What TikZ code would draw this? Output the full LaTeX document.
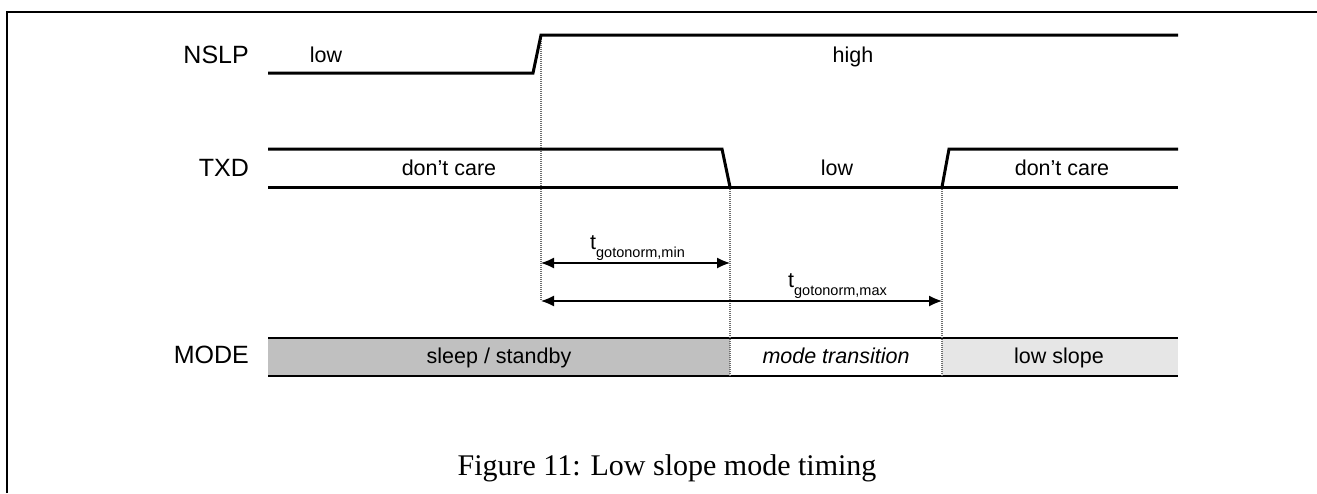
\documentclass[tikz,border=0pt]{standalone}
\usepackage{fontspec}
\setmainfont{Liberation Serif}
\setsansfont{Liberation Sans}
\usetikzlibrary{arrows.meta}
\definecolor{sleepgray}{RGB}{192,192,192}
\definecolor{slopegray}{RGB}{230,230,230}
\definecolor{guidegray}{RGB}{110,110,110}
\begin{document}
\begin{tikzpicture}[x=1pt,y=-1pt,
  sig/.style={line width=3pt, line join=miter},
  guide/.style={guidegray, line width=1.3pt, dash pattern=on 1pt off 1pt},
  dim/.style={line width=1.3pt, {Latex[length=13pt,width=11pt]}-{Latex[length=13pt,width=11pt]}},
  siglabel/.style={font=\sffamily\fontsize{25}{30}\selectfont, anchor=base east, inner sep=0pt},
  val/.style={font=\sffamily\fontsize{21.5}{25}\selectfont, anchor=base, inner sep=0pt},
  tlabel/.style={font=\sffamily\fontsize{21.5}{25}\selectfont, anchor=base west, inner sep=0pt},
  rowline/.style={line width=2pt}
]
\useasboundingbox (0,0) rectangle (1317,493);
% frame
\draw[line width=1.5pt] (7,493) -- (7,12) -- (1317,12);

% coordinates
\coordinate (n0) at (268,73);
\coordinate (n1) at (533,73);
\coordinate (n2) at (541,35);
\coordinate (n3) at (1178,35);
\coordinate (ta) at (268,149);
\coordinate (tb) at (722,149);
\coordinate (tc) at (730,187);
\coordinate (td) at (942,187);
\coordinate (te) at (949,149);
\coordinate (tf) at (1178,149);
\coordinate (tg) at (268,187);
\coordinate (th) at (1178,187);

% mode row
\fill[sleepgray] (268,338) rectangle (730,376);
\fill[slopegray] (942,338) rectangle (1178,376);
\draw[rowline] (268,338) -- (1178,338);
\draw[rowline] (268,376) -- (1178,376);

% guides
\coordinate (g1b) at (541,301);
\coordinate (g2b) at (730,376);
\coordinate (g3b) at (942,376);
\draw[guide] (n2) -- (g1b);
\draw[guide] (tc) -- (g2b);
\draw[guide] (td) -- (g3b);

% signals
\draw[sig] (n0) -- (n1) -- (n2) -- (n3);
\draw[sig] (ta) -- (tb) -- (tc);
\draw[sig] (tg) -- (th);
\draw[sig] (td) -- (te) -- (tf);

% dimension arrows
\coordinate (a1s) at (541,263);
\coordinate (a1e) at (730,263);
\coordinate (a2s) at (541,301);
\coordinate (a2e) at (942,301);
\draw[dim] (a1s) -- (a1e);
\draw[dim] (a2s) -- (a2e);
\node[tlabel] (tmin) at (590,249) {t\raisebox{-8pt}{\fontsize{14.5}{16}\selectfont gotonorm,min}};
\node[tlabel] (tmax) at (788,287) {t\raisebox{-8pt}{\fontsize{14.5}{16}\selectfont gotonorm,max}};

% labels
\node[siglabel] (lnslp) at (249,63) {NSLP};
\node[siglabel] (ltxd) at (249,176) {TXD};
\node[siglabel] (lmode) at (249,363) {MODE};

\node[val] (vlow1) at (326,62) {low};
\node[val] (vhigh) at (853,62) {high};
\node[val] (vdc1) at (449,175) {don’t care};
\node[val] (vlow2) at (837,175) {low};
\node[val] (vdc2) at (1062,175) {don’t care};
\node[val] (msleep) at (499,363) {sleep / standby};
\node[val] (mtrans) at (836,363) {\itshape mode transition};
\node[val] (mslope) at (1059,363) {low slope};

\node[font=\fontsize{30}{35}\selectfont, anchor=base, inner sep=0pt] (cap) at (667,475) {Figure 11: Low slope mode timing};
\end{tikzpicture}
\end{document}
